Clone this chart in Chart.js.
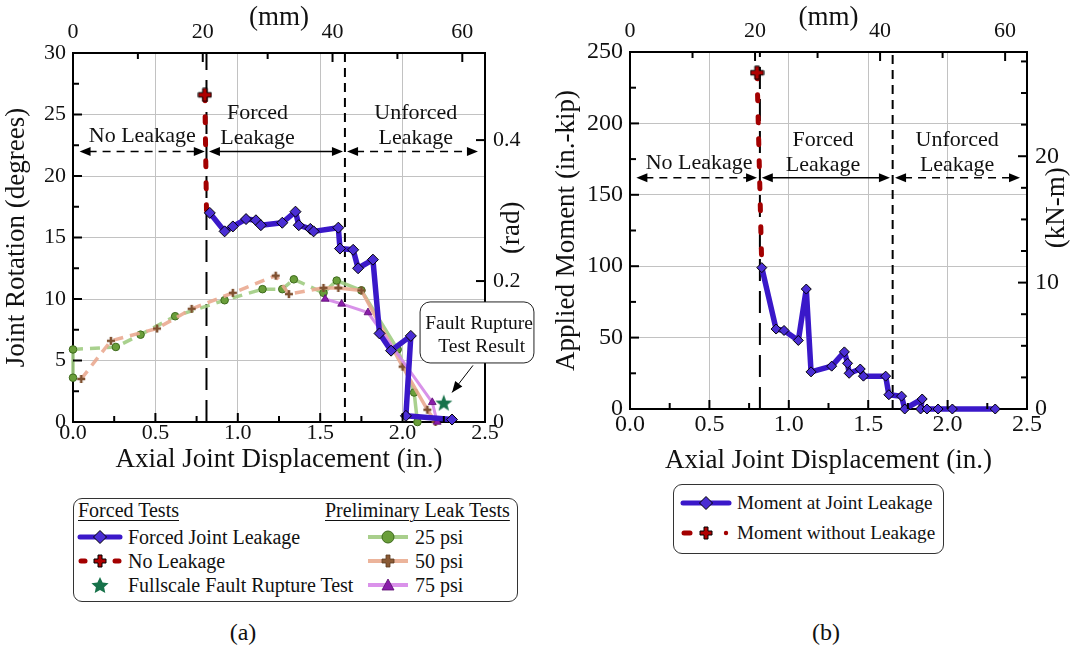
<!DOCTYPE html>
<html lang="en">
<head>
<meta charset="utf-8">
<title>Joint rotation and moment vs axial displacement</title>
<script src="https://cdn.jsdelivr.net/npm/chart.js@4.4.1/dist/chart.umd.min.js"></script>
<style>
  body { margin:0; width:1073px; height:648px; position:relative; overflow:hidden; background:#fff;
         font-family:"Liberation Serif","Times New Roman",serif; color:#111; }
  #wa { position:absolute; left:0; top:0; }
  #wb { position:absolute; left:545px; top:0; }
  .box { position:absolute; border:1px solid #333; border-radius:9px; box-sizing:border-box; }
  .t { position:absolute; font-size:20px; line-height:22px; white-space:nowrap; }
  .s { font-size:19.2px; }
  .u { text-decoration:underline; text-underline-offset:3px; text-decoration-thickness:1px; }
  .ic { position:absolute; }
  .cap { position:absolute; font-size:24px; line-height:26px; transform:translateX(-50%); }
</style>
</head>
<body>

<canvas id="wa" width="545" height="479"></canvas>
<canvas id="wb" width="528" height="479"></canvas>

<!-- legend (a) -->
<div class="box" style="left:73px;top:498px;width:445px;height:104px">
  <span class="t u" style="left:4px;top:0px">Forced Tests</span>
  <span class="t u" style="left:251px;top:0px">Preliminary Leak Tests</span>

  <svg class="ic" style="left:3px;top:30px" width="46" height="16">
    <line x1="3" y1="8" x2="43" y2="8" stroke="#3a18c9" stroke-width="5" stroke-linecap="round"/>
    <polygon points="23,1.5 29.5,8 23,14.5 16.5,8" fill="#4a2ed4" stroke="#000" stroke-width="1"/>
  </svg>
  <span class="t" style="left:54px;top:27px">Forced Joint Leakage</span>

  <svg class="ic" style="left:3px;top:54px" width="46" height="16">
    <line x1="4" y1="8" x2="8" y2="8" stroke="#a30000" stroke-width="5" stroke-linecap="round"/>
    <line x1="38" y1="8" x2="42" y2="8" stroke="#a30000" stroke-width="5" stroke-linecap="round"/>
    <path d="M21,2h4v4h4v4h-4v4h-4v-4h-4v-4h4z" fill="#b00000" stroke="#000" stroke-width="1"/>
  </svg>
  <span class="t" style="left:54px;top:51px">No Leakage</span>

  <svg class="ic" style="left:3px;top:77px" width="46" height="18">
    <polygon points="23,1 25.6,6.6 31.6,7.2 27.1,11.2 28.3,17 23,14.1 17.7,17 18.9,11.2 14.4,7.2 20.4,6.6" fill="#17724a"/>
  </svg>
  <span class="t" style="left:54px;top:75px">Fullscale Fault Rupture Test</span>

  <svg class="ic" style="left:292px;top:30px" width="44" height="16">
    <line x1="2" y1="8" x2="42" y2="8" stroke="#a9cf8c" stroke-width="4"/>
    <circle cx="22" cy="8" r="6" fill="#6a9e3a" stroke="#3d6a1c" stroke-width="1"/>
  </svg>
  <span class="t" style="left:341px;top:27px">25 psi</span>

  <svg class="ic" style="left:292px;top:54px" width="44" height="16">
    <line x1="2" y1="8" x2="42" y2="8" stroke="#ecb49b" stroke-width="4"/>
    <path d="M20,2h4v4h4v4h-4v4h-4v-4h-4v-4h4z" fill="#8a5a35" stroke="#5a3a20" stroke-width="0.8"/>
  </svg>
  <span class="t" style="left:341px;top:51px">50 psi</span>

  <svg class="ic" style="left:292px;top:78px" width="44" height="16">
    <line x1="2" y1="8" x2="42" y2="8" stroke="#da92ea" stroke-width="4"/>
    <polygon points="22,2 28,13 16,13" fill="#8a1caa" stroke="#5a0a70" stroke-width="0.8"/>
  </svg>
  <span class="t" style="left:341px;top:75px">75 psi</span>
</div>

<!-- legend (b) -->
<div class="box" style="left:673px;top:484px;width:271px;height:70px">
  <svg class="ic" style="left:6px;top:10px" width="52" height="16">
    <line x1="3" y1="8" x2="49" y2="8" stroke="#3a18c9" stroke-width="5" stroke-linecap="round"/>
    <polygon points="26,1.5 32.5,8 26,14.5 19.5,8" fill="#4a2ed4" stroke="#000" stroke-width="1"/>
  </svg>
  <span class="t s" style="left:63px;top:7px">Moment at Joint Leakage</span>

  <svg class="ic" style="left:6px;top:40px" width="52" height="16">
    <line x1="4" y1="8" x2="10" y2="8" stroke="#a30000" stroke-width="5" stroke-linecap="round"/>
    <circle cx="46" cy="8" r="2.2" fill="#a30000"/>
    <path d="M24,2h4v4h4v4h-4v4h-4v-4h-4v-4h4z" fill="#b00000" stroke="#000" stroke-width="1"/>
  </svg>
  <span class="t s" style="left:63px;top:37px">Moment without Leakage</span>
</div>

<div class="cap" style="left:243px;top:619px">(a)</div>
<div class="cap" style="left:826px;top:619px">(b)</div>

<script>
// ---------- data (a): joint rotation, degrees ----------
const forcedX   = [0.83, 0.92, 0.97, 1.05, 1.11, 1.14, 1.27, 1.35, 1.37, 1.44, 1.46, 1.61, 1.62, 1.70, 1.73, 1.82, 1.86, 1.93, 2.05, 2.02, 2.30];
const forcedDeg = [17.0, 15.5, 15.9, 16.5, 16.4, 16.0, 16.2, 17.1, 16.0, 15.7, 15.5, 15.8, 14.1, 14.0, 12.5, 13.2, 7.2, 5.8, 7.0, 0.5, 0.2];

const noLeakX   = [0.80, 0.81];
const noLeakDeg = [26.6, 17.2];

const p25X   = [0.00, 0.00, 0.26, 0.41, 0.62, 0.92, 1.15, 1.27, 1.34, 1.52, 1.60, 1.75, 1.97, 2.07, 2.09];
const p25Deg = [3.6, 5.9, 6.1, 7.1, 8.6, 9.9, 10.8, 10.8, 11.6, 10.5, 11.5, 10.7, 5.9, 2.4, 0.0];

const p50X   = [0.05, 0.23, 0.51, 0.72, 0.97, 1.23, 1.31, 1.52, 1.61, 1.75, 2.00, 2.15, 2.20];
const p50Deg = [3.5, 6.6, 7.6, 9.2, 10.5, 11.9, 10.4, 10.9, 10.9, 10.7, 4.5, 1.0, 0.0];

const p75X   = [1.53, 1.63, 1.79, 2.18, 2.21];
const p75Deg = [10.0, 9.6, 8.9, 1.6, 0.0];

const starX = [2.25];
const starDeg = [1.5];

const boundNoLeakA = 0.81;
const boundForcedA = 1.65;

// ---------- data (b): applied moment, in.-kip ----------
const momentX   = [0.83, 0.92, 0.97, 1.06, 1.11, 1.14, 1.27, 1.35, 1.37, 1.38, 1.45, 1.47, 1.61, 1.63, 1.71, 1.73, 1.84, 1.83, 1.87, 1.94, 2.03, 2.30];
const momentKip = [99, 56, 55, 48, 84, 26, 30, 40, 32, 25, 28, 23, 23, 10, 9, 0, 7, 0, 0, 0, 0, 0];

const noLeakMomX   = [0.80, 0.83];
const noLeakMomKip = [235.5, 99];

const boundNoLeakB = 0.818;
const boundForcedB = 1.654;

// tick labels
const inchTicks = ['0.0', '0.5', '1.0', '1.5', '2.0', '2.5'];
const degTicks = ['0', '5', '10', '15', '20', '25', '30'];
const kipTicks = ['0', '50', '100', '150', '200', '250'];
const mmTicks = ['0', '20', '40', '60'];
const radTicks = ['0', '0.2', '0.4'];
const knmTicks = ['0', '10', '20'];

const IN2MM = 25.4, DEG2RAD = Math.PI / 180, KIPIN2KNM = 0.112985;

// ---------- helpers ----------
const FONT = '"Liberation Serif", "Times New Roman", serif';
Chart.defaults.font.family = FONT;
Chart.defaults.color = '#111';

const pts = (xs, ys) => xs.map((x, i) => ({x: x, y: ys[i]}));
const isMul = (v, s) => Math.abs(v / s - Math.round(v / s)) < 1e-6;

function plusImg(size, arm, fill, stroke) {
  const c = document.createElement('canvas');
  c.width = c.height = size + 2;
  const g = c.getContext('2d');
  const m = (size + 2) / 2, h = size / 2, a = arm / 2;
  g.beginPath();
  g.moveTo(m - a, m - h); g.lineTo(m + a, m - h); g.lineTo(m + a, m - a); g.lineTo(m + h, m - a);
  g.lineTo(m + h, m + a); g.lineTo(m + a, m + a); g.lineTo(m + a, m + h); g.lineTo(m - a, m + h);
  g.lineTo(m - a, m + a); g.lineTo(m - h, m + a); g.lineTo(m - h, m - a); g.lineTo(m - a, m - a);
  g.closePath();
  g.fillStyle = fill; g.fill();
  if (stroke) { g.strokeStyle = stroke; g.lineWidth = 1; g.stroke(); }
  return c;
}
function starImg(r, fill) {
  const c = document.createElement('canvas');
  c.width = c.height = 2 * r + 2;
  const g = c.getContext('2d');
  g.beginPath();
  for (let i = 0; i < 10; i++) {
    const rr = i % 2 ? r * 0.42 : r;
    const ang = -Math.PI / 2 + i * Math.PI / 5;
    g.lineTo(r + 1 + rr * Math.cos(ang), r + 1 + rr * Math.sin(ang));
  }
  g.closePath(); g.fillStyle = fill; g.fill();
  return c;
}

// axis with minor ticks (labels only on majors); secondary axes draw no grid
function axis(pos, min, max, minor, major, labels, size, pad, secondary, opts) {
  return Object.assign({
    type: 'linear', position: pos, min: min, max: max,
    ticks: {
      stepSize: minor, autoSkip: false, maxRotation: 0, includeBounds: false, color: '#111', padding: pad,
      font: {size: size, family: FONT},
      callback: v => {
        if (!isMul(v, major)) return '';
        const i = Math.round(v / major);
        return labels[i] !== undefined ? labels[i] : '';
      }
    },
    grid: {drawTicks: false, drawOnChartArea: !secondary, lineWidth: 1,
           color: ctx => (ctx.tick && isMul(ctx.tick.value, major) ? '#c2c2c2' : 'rgba(0,0,0,0)')},
    border: {display: true, color: '#000', width: 2}
  }, opts);
}
const ttl = (text, pad) => ({display: true, text: text, font: {size: 27}, color: '#111', padding: pad});

// inward ticks, arrows, text, callout, right-hand titles
function extras(spec) {
  return {
    id: 'extras',
    afterDraw(chart) {
      const ctx = chart.ctx, ca = chart.chartArea;
      ctx.save();
      ctx.strokeStyle = '#000'; ctx.lineWidth = 2;
      Object.keys(spec.ticks).forEach(id => {
        const s = chart.scales[id], m = spec.ticks[id];
        s.ticks.forEach(t => {
          const v = t.value;
          const maj = isMul(v, m.major);
          if (!maj && !isMul(v, m.minor)) return;
          if (v <= s.min + 1e-9 || v >= s.max - 1e-9) return;
          const len = maj ? 9 : 6, p = s.getPixelForValue(v);
          ctx.beginPath();
          if (s.position === 'bottom') { ctx.moveTo(p, ca.bottom); ctx.lineTo(p, ca.bottom - len); }
          else if (s.position === 'top') { ctx.moveTo(p, ca.top); ctx.lineTo(p, ca.top + len); }
          else if (s.position === 'left') { ctx.moveTo(ca.left, p); ctx.lineTo(ca.left + len, p); }
          else { ctx.moveTo(ca.right, p); ctx.lineTo(ca.right - len, p); }
          ctx.stroke();
        });
      });

      const xs = chart.scales.x, ys = chart.scales.y;
      const head = (x, y, ang) => {
        ctx.beginPath();
        ctx.moveTo(x, y);
        ctx.lineTo(x - 11 * Math.cos(ang) + 4.5 * Math.sin(ang), y - 11 * Math.sin(ang) - 4.5 * Math.cos(ang));
        ctx.lineTo(x - 11 * Math.cos(ang) - 4.5 * Math.sin(ang), y - 11 * Math.sin(ang) + 4.5 * Math.cos(ang));
        ctx.closePath(); ctx.fill();
      };
      ctx.fillStyle = '#000'; ctx.lineWidth = 1.5;
      spec.arrows.forEach(a => {
        const x1 = xs.getPixelForValue(a.x1), x2 = xs.getPixelForValue(a.x2), y = ys.getPixelForValue(a.y);
        ctx.setLineDash(a.dash || []);
        ctx.beginPath(); ctx.moveTo(x1 + 9, y); ctx.lineTo(x2 - 9, y); ctx.stroke();
        ctx.setLineDash([]);
        head(x1, y, Math.PI); head(x2, y, 0);
      });

      ctx.font = '22px ' + FONT; ctx.textAlign = 'center'; ctx.textBaseline = 'middle'; ctx.fillStyle = '#111';
      spec.labels.forEach(l => ctx.fillText(l.text, xs.getPixelForValue(l.x), ys.getPixelForValue(l.y)));

      // right-hand axis title, read bottom to top
      const rt = spec.rightTitle;
      ctx.save();
      ctx.translate(ca.right + rt.dx, ys.getPixelForValue(rt.y));
      ctx.rotate(-Math.PI / 2);
      ctx.font = '27px ' + FONT;
      ctx.fillText(rt.text, 0, 0);
      ctx.restore();

      if (spec.callout) {
        const c = spec.callout;
        const l = xs.getPixelForValue(c.x1), r = xs.getPixelForValue(c.x2);
        const t = ys.getPixelForValue(c.y1), b = ys.getPixelForValue(c.y2);
        ctx.fillStyle = '#fff'; ctx.strokeStyle = '#222'; ctx.lineWidth = 1;
        ctx.beginPath(); ctx.roundRect(l, t, r - l, b - t, 10); ctx.fill(); ctx.stroke();
        ctx.fillStyle = '#111'; ctx.font = '19.5px ' + FONT;
        c.lines.forEach(s => ctx.fillText(s.text, xs.getPixelForValue(s.x), ys.getPixelForValue(s.y)));
        const ax1 = xs.getPixelForValue(c.ax1), ay1 = ys.getPixelForValue(c.ay1);
        const ax2 = xs.getPixelForValue(c.ax2), ay2 = ys.getPixelForValue(c.ay2);
        ctx.strokeStyle = '#000'; ctx.fillStyle = '#000';
        ctx.beginPath(); ctx.moveTo(ax1, ay1); ctx.lineTo(ax2, ay2); ctx.stroke();
        head(ax2, ay2, Math.atan2(ay2 - ay1, ax2 - ax1));
      }
      ctx.restore();
    }
  };
}

function vline(x, ymax, dash) {
  return {data: [{x: x, y: 0}, {x: x, y: ymax}], borderColor: '#000', borderWidth: 2, borderDash: dash,
          pointRadius: 0, showLine: true, clip: false};
}
const dashedEarly = ctx => (ctx.p0.parsed.x < 1.5 && ctx.p0.parsed.x !== ctx.p1.parsed.x ? [10, 7] : undefined);

const baseOpts = {
  responsive: false, animation: false,
  layout: {padding: 0},
  plugins: {legend: {display: false}, tooltip: {enabled: false}}
};

// ---------- chart (a) ----------
new Chart(document.getElementById('wa'), {
  type: 'scatter',
  data: {datasets: [
    {data: pts(starX, starDeg), pointStyle: starImg(9, '#17724a'), pointRadius: 9, showLine: false, clip: false},
    {data: pts(forcedX, forcedDeg), borderColor: '#3a18c9', borderWidth: 5.5, borderJoinStyle: 'round',
     pointStyle: 'rectRot', pointRadius: 5.5, pointBackgroundColor: '#4a2ed4', pointBorderColor: '#000', pointBorderWidth: 1,
     showLine: true, clip: false},
    {data: pts(noLeakX, noLeakDeg), borderColor: '#a30000', borderWidth: 5, borderDash: [6, 16], borderCapStyle: 'round',
     pointStyle: plusImg(13, 4.5, '#b00000', '#000'), pointRadius: [7, 0], showLine: true, clip: false},
    {data: pts(p75X, p75Deg), borderColor: 'rgba(214,140,232,0.95)', borderWidth: 3,
     pointStyle: 'triangle', pointRadius: 4.5, pointBackgroundColor: '#8a1caa', pointBorderColor: '#5a0a70', pointBorderWidth: 0.8,
     showLine: true, clip: false},
    {data: pts(p50X, p50Deg), borderColor: 'rgba(234,170,145,0.9)', borderWidth: 3.5, segment: {borderDash: dashedEarly},
     pointStyle: plusImg(8, 2.6, '#7e5030', null), pointRadius: 4,
     showLine: true, clip: false},
    {data: pts(p25X, p25Deg), borderColor: 'rgba(160,204,130,0.9)', borderWidth: 3.5, segment: {borderDash: dashedEarly},
     pointStyle: 'circle', pointRadius: 3.8, pointBackgroundColor: '#6a9e3a', pointBorderColor: '#3d6a1c', pointBorderWidth: 1,
     showLine: true, clip: false},
    vline(boundNoLeakA, 30, [22, 10]),
    vline(boundForcedA, 30, [9, 6])
  ]},
  options: Object.assign({}, baseOpts, {
    scales: {
      x: axis('bottom', 0, 2.5, 0.25, 0.5, inchTicks, 22, -2, false, {
        title: ttl('Axial Joint Displacement (in.)', {top: 0, bottom: 3}),
        afterFit: s => { s.height = 57; }
      }),
      y: axis('left', 0, 30, 2.5, 5, degTicks, 22, 7, false, {
        title: ttl('Joint Rotation (degrees)', {top: 1, bottom: 0}),
        afterFit: s => { s.width = 73; }
      }),
      mm: axis('top', 0, 2.5 * IN2MM, 10, 20, mmTicks, 22, 8, true, {
        title: ttl('(mm)', {top: 2, bottom: 0}),
        afterFit: s => { s.height = 53; }
      }),
      rad: axis('right', 0, 30 * DEG2RAD, 0.2, 0.2, radTicks, 22, 8, true, {
        afterFit: s => { s.width = 60; }
      })
    }
  }),
  plugins: [extras({
    ticks: {x: {major: 0.5, minor: 0.25}, y: {major: 5, minor: 2.5}, mm: {major: 20, minor: 10}, rad: {major: 0.2, minor: 0.2}},
    arrows: [{x1: 0.04, x2: 0.80, y: 22, dash: [8, 6]}, {x1: 0.825, x2: 1.638, y: 22}, {x1: 1.663, x2: 2.457, y: 22, dash: [8, 6]}],
    labels: [{x: 0.42, y: 23.2, text: 'No Leakage'}, {x: 1.12, y: 25.1, text: 'Forced'}, {x: 1.12, y: 23.1, text: 'Leakage'},
             {x: 2.08, y: 25.1, text: 'Unforced'}, {x: 2.08, y: 23.1, text: 'Leakage'}],
    rightTitle: {text: '(rad)', dx: 27, y: 15.8},
    callout: {x1: 2.106, x2: 2.797, y1: 9.76, y2: 4.8,
              lines: [{x: 2.464, y: 8.0, text: 'Fault Rupture'}, {x: 2.48, y: 6.1, text: 'Test Result'}],
              ax1: 2.427, ay1: 4.6, ax2: 2.30, ay2: 2.4}
  })]
});

// ---------- chart (b) ----------
new Chart(document.getElementById('wb'), {
  type: 'scatter',
  data: {datasets: [
    {data: pts(momentX, momentKip), borderColor: '#3a18c9', borderWidth: 5.5, borderJoinStyle: 'round',
     pointStyle: 'rectRot', pointRadius: 5, pointBackgroundColor: '#4a2ed4', pointBorderColor: '#000', pointBorderWidth: 1,
     showLine: true, clip: false},
    {data: pts(noLeakMomX, noLeakMomKip), borderColor: '#a30000', borderWidth: 5, borderDash: [6, 16], borderCapStyle: 'round',
     pointStyle: plusImg(13, 4.5, '#b00000', '#000'), pointRadius: [7, 0], showLine: true, clip: false},
    vline(boundNoLeakB, 250, [22, 10]),
    vline(boundForcedB, 250, [9, 6])
  ]},
  options: Object.assign({}, baseOpts, {
    scales: {
      x: axis('bottom', 0, 2.5, 0.25, 0.5, inchTicks, 24, 1, false, {
        title: ttl('Axial Joint Displacement (in.)', {top: 0, bottom: 2}),
        afterFit: s => { s.height = 70; }
      }),
      y: axis('left', 0, 250, 25, 50, kipTicks, 24, 7, false, {
        title: ttl('Applied Moment (in.-kip)', {top: 6, bottom: 0}),
        afterFit: s => { s.width = 85; }
      }),
      mm: axis('top', 0, 2.5 * IN2MM, 10, 20, mmTicks, 22, 8, true, {
        title: ttl('(mm)', {top: 2, bottom: 0}),
        afterFit: s => { s.height = 52; }
      }),
      knm: axis('right', 0, 250 * KIPIN2KNM, 2.5, 10, knmTicks, 24, 8, true, {
        afterFit: s => { s.width = 46; }
      })
    }
  }),
  plugins: [extras({
    ticks: {x: {major: 0.5, minor: 0.25}, y: {major: 50, minor: 25}, mm: {major: 20, minor: 10}, knm: {major: 10, minor: 2.5}},
    arrows: [{x1: 0.04, x2: 0.80, y: 162, dash: [8, 6]}, {x1: 0.83, x2: 1.637, y: 162}, {x1: 1.669, x2: 2.456, y: 162, dash: [8, 6]}],
    labels: [{x: 0.435, y: 172, text: 'No Leakage'}, {x: 1.215, y: 188, text: 'Forced'}, {x: 1.215, y: 171, text: 'Leakage'},
             {x: 2.06, y: 188, text: 'Unforced'}, {x: 2.06, y: 171, text: 'Leakage'}],
    rightTitle: {text: '(kN-m)', dx: 30, y: 141}
  })]
});
</script>
</body>
</html>
